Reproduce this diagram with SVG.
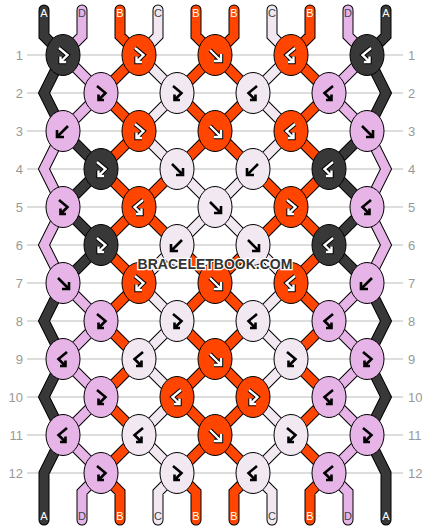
<svg xmlns="http://www.w3.org/2000/svg" width="430" height="528" viewBox="0 0 430 528">
<style>
.grid{stroke:#bbb;stroke-width:1}
.rl{font-family:"Liberation Sans",Arial,sans-serif;font-size:13px;fill:#999}
.sl{font-family:"Liberation Sans",Arial,sans-serif;font-size:11px;text-anchor:middle}
.lw{fill:#fff}.ld{fill:#444}
.ol{fill:none;stroke:#000;stroke-width:11;stroke-linejoin:miter;stroke-linecap:round}
.th{fill:none;stroke-width:9;stroke-linejoin:miter;stroke-linecap:round}
.tA{stroke:#383838}.tB{stroke:#ff4500}.tC{stroke:#f2e8f2}.tD{stroke:#e6b4e6}
ellipse{stroke:#000;stroke-width:1}
.kA{fill:#383838}.kB{fill:#ff4500}.kC{fill:#f2e8f2}.kD{fill:#e6b4e6}
.ib{fill:none;stroke:#000;stroke-width:2.6}
.io{fill:none;stroke:#000;stroke-width:4.4}
.iw{fill:none;stroke:#fff;stroke-width:2.4}
.wm{font-family:"Liberation Sans",Arial,sans-serif;font-weight:bold;font-size:14px;fill:#333;stroke:#fff;stroke-width:2.5;paint-order:stroke;text-anchor:middle}
</style>
<defs>
<path id="fb" d="M-4,-7 L4.5,0 L-2.5,7 M-2.5,1.5 V7 H3"/>
<path id="bf" d="M4,-7 L-4.5,0 L2.5,7 M2.5,1.5 V7 H-3"/>
<path id="f" d="M-5,-5 L6,6 M6,-1 V6 H-1"/>
<path id="b" d="M5,-5 L-6,6 M-6,-1 V6 H1"/>
</defs>
<g id="grid">
<line class="grid" x1="27" y1="55" x2="403" y2="55"/>
<line class="grid" x1="27" y1="93" x2="403" y2="93"/>
<line class="grid" x1="27" y1="131" x2="403" y2="131"/>
<line class="grid" x1="27" y1="169" x2="403" y2="169"/>
<line class="grid" x1="27" y1="207" x2="403" y2="207"/>
<line class="grid" x1="27" y1="245" x2="403" y2="245"/>
<line class="grid" x1="27" y1="283" x2="403" y2="283"/>
<line class="grid" x1="27" y1="321" x2="403" y2="321"/>
<line class="grid" x1="27" y1="359" x2="403" y2="359"/>
<line class="grid" x1="27" y1="397" x2="403" y2="397"/>
<line class="grid" x1="27" y1="435" x2="403" y2="435"/>
<line class="grid" x1="27" y1="473" x2="403" y2="473"/>
</g>
<g id="row-labels">
<text class="rl" x="23" y="59.5" text-anchor="end">1</text><text class="rl" x="408" y="59.5">1</text>
<text class="rl" x="23" y="97.5" text-anchor="end">2</text><text class="rl" x="408" y="97.5">2</text>
<text class="rl" x="23" y="135.5" text-anchor="end">3</text><text class="rl" x="408" y="135.5">3</text>
<text class="rl" x="23" y="173.5" text-anchor="end">4</text><text class="rl" x="408" y="173.5">4</text>
<text class="rl" x="23" y="211.5" text-anchor="end">5</text><text class="rl" x="408" y="211.5">5</text>
<text class="rl" x="23" y="249.5" text-anchor="end">6</text><text class="rl" x="408" y="249.5">6</text>
<text class="rl" x="23" y="287.5" text-anchor="end">7</text><text class="rl" x="408" y="287.5">7</text>
<text class="rl" x="23" y="325.5" text-anchor="end">8</text><text class="rl" x="408" y="325.5">8</text>
<text class="rl" x="23" y="363.5" text-anchor="end">9</text><text class="rl" x="408" y="363.5">9</text>
<text class="rl" x="23" y="401.5" text-anchor="end">10</text><text class="rl" x="408" y="401.5">10</text>
<text class="rl" x="23" y="439.5" text-anchor="end">11</text><text class="rl" x="408" y="439.5">11</text>
<text class="rl" x="23" y="477.5" text-anchor="end">12</text><text class="rl" x="408" y="477.5">12</text>
</g>
<g id="connectors">
<path class="ol" d="M44,10V36L63,55M386,10V36L367,55M63,55L44,93L63,131M367,55L386,93L367,131M63,131L101,169M367,131L329,169M101,169L63,207M329,169L367,207M63,207L101,245M367,207L329,245M101,245L63,283M329,245L367,283M63,283L44,321L63,359M367,283L386,321L367,359M63,359L44,397L63,435M367,359L386,397L367,435M63,435L44,473V520M367,435L386,473V520
M82,10V36L63,55M348,10V36L367,55M63,55L101,93M367,55L329,93M101,93L63,131M329,93L367,131M63,131L44,169L63,207M367,131L386,169L367,207M63,207L44,245L63,283M367,207L386,245L367,283M63,283L101,321M367,283L329,321M101,321L63,359M329,321L367,359M63,359L101,397M367,359L329,397M101,397L63,435M329,397L367,435M63,435L101,473M367,435L329,473M101,473L82,492V520M329,473L348,492V520
M120,10V36L139,55M196,10V36L215,55M234,10V36L215,55M310,10V36L291,55M139,55L101,93M215,55L177,93M215,55L253,93M291,55L329,93M101,93L139,131M177,93L215,131M253,93L215,131M329,93L291,131M139,131L101,169M215,131L177,169M215,131L253,169M291,131L329,169M101,169L139,207M177,169L139,207M253,169L291,207M329,169L291,207M139,207L101,245M139,207L177,245M291,207L253,245M291,207L329,245M101,245L139,283M177,245L215,283M253,245L215,283M329,245L291,283M139,283L101,321M215,283L177,321M215,283L253,321M291,283L329,321M101,321L139,359M177,321L215,359M253,321L215,359M329,321L291,359M139,359L101,397M215,359L177,397M215,359L253,397M291,359L329,397M101,397L139,435M177,397L215,435M253,397L215,435M329,397L291,435M139,435L101,473M215,435L177,473M215,435L253,473M291,435L329,473M101,473L120,492V520M177,473L196,492V520M253,473L234,492V520M329,473L310,492V520
M158,10V36L139,55M272,10V36L291,55M139,55L177,93M291,55L253,93M177,93L139,131M253,93L291,131M139,131L177,169M291,131L253,169M177,169L215,207M253,169L215,207M215,207L177,245M215,207L253,245M177,245L139,283M253,245L291,283M139,283L177,321M291,283L253,321M177,321L139,359M253,321L291,359M139,359L177,397M291,359L253,397M177,397L139,435M253,397L291,435M139,435L177,473M291,435L253,473M177,473L158,492V520M253,473L272,492V520"/>
<path class="th tA" d="M44,10V36L63,55M386,10V36L367,55M63,55L44,93L63,131M367,55L386,93L367,131M63,131L101,169M367,131L329,169M101,169L63,207M329,169L367,207M63,207L101,245M367,207L329,245M101,245L63,283M329,245L367,283M63,283L44,321L63,359M367,283L386,321L367,359M63,359L44,397L63,435M367,359L386,397L367,435M63,435L44,473V520M367,435L386,473V520"/>
<path class="th tD" d="M82,10V36L63,55M348,10V36L367,55M63,55L101,93M367,55L329,93M101,93L63,131M329,93L367,131M63,131L44,169L63,207M367,131L386,169L367,207M63,207L44,245L63,283M367,207L386,245L367,283M63,283L101,321M367,283L329,321M101,321L63,359M329,321L367,359M63,359L101,397M367,359L329,397M101,397L63,435M329,397L367,435M63,435L101,473M367,435L329,473M101,473L82,492V520M329,473L348,492V520"/>
<path class="th tB" d="M120,10V36L139,55M196,10V36L215,55M234,10V36L215,55M310,10V36L291,55M139,55L101,93M215,55L177,93M215,55L253,93M291,55L329,93M101,93L139,131M177,93L215,131M253,93L215,131M329,93L291,131M139,131L101,169M215,131L177,169M215,131L253,169M291,131L329,169M101,169L139,207M177,169L139,207M253,169L291,207M329,169L291,207M139,207L101,245M139,207L177,245M291,207L253,245M291,207L329,245M101,245L139,283M177,245L215,283M253,245L215,283M329,245L291,283M139,283L101,321M215,283L177,321M215,283L253,321M291,283L329,321M101,321L139,359M177,321L215,359M253,321L215,359M329,321L291,359M139,359L101,397M215,359L177,397M215,359L253,397M291,359L329,397M101,397L139,435M177,397L215,435M253,397L215,435M329,397L291,435M139,435L101,473M215,435L177,473M215,435L253,473M291,435L329,473M101,473L120,492V520M177,473L196,492V520M253,473L234,492V520M329,473L310,492V520"/>
<path class="th tC" d="M158,10V36L139,55M272,10V36L291,55M139,55L177,93M291,55L253,93M177,93L139,131M253,93L291,131M139,131L177,169M291,131L253,169M177,169L215,207M253,169L215,207M215,207L177,245M215,207L253,245M177,245L139,283M253,245L291,283M139,283L177,321M291,283L253,321M177,321L139,359M253,321L291,359M139,359L177,397M291,359L253,397M177,397L139,435M253,397L291,435M139,435L177,473M291,435L253,473M177,473L158,492V520M253,473L272,492V520"/>
</g>
<g id="strand-labels">
<text class="sl lw" x="44" y="17">A</text><text class="sl ld" x="82" y="17">D</text><text class="sl lw" x="120" y="17">B</text><text class="sl ld" x="158" y="17">C</text><text class="sl lw" x="196" y="17">B</text><text class="sl lw" x="234" y="17">B</text><text class="sl ld" x="272" y="17">C</text><text class="sl lw" x="310" y="17">B</text><text class="sl ld" x="348" y="17">D</text><text class="sl lw" x="386" y="17">A</text>
<text class="sl lw" x="44" y="520">A</text><text class="sl ld" x="82" y="520">D</text><text class="sl lw" x="120" y="520">B</text><text class="sl ld" x="158" y="520">C</text><text class="sl lw" x="196" y="520">B</text><text class="sl lw" x="234" y="520">B</text><text class="sl ld" x="272" y="520">C</text><text class="sl lw" x="310" y="520">B</text><text class="sl ld" x="348" y="520">D</text><text class="sl lw" x="386" y="520">A</text>
</g>
<g id="k1-1" transform="translate(63,55)"><ellipse class="kA" rx="17" ry="20.5"/><use href="#fb" class="io"/><use href="#fb" class="iw"/></g>
<g id="k1-2" transform="translate(139,55)"><ellipse class="kB" rx="17" ry="20.5"/><use href="#fb" class="io"/><use href="#fb" class="iw"/></g>
<g id="k1-3" transform="translate(215,55)"><ellipse class="kB" rx="17" ry="20.5"/><use href="#f" class="io"/><use href="#f" class="iw"/></g>
<g id="k1-4" transform="translate(291,55)"><ellipse class="kB" rx="17" ry="20.5"/><use href="#bf" class="io"/><use href="#bf" class="iw"/></g>
<g id="k1-5" transform="translate(367,55)"><ellipse class="kA" rx="17" ry="20.5"/><use href="#bf" class="io"/><use href="#bf" class="iw"/></g>
<g id="k2-1" transform="translate(101,93)"><ellipse class="kD" rx="17" ry="20.5"/><use href="#fb" class="ib"/></g>
<g id="k2-2" transform="translate(177,93)"><ellipse class="kC" rx="17" ry="20.5"/><use href="#fb" class="ib"/></g>
<g id="k2-3" transform="translate(253,93)"><ellipse class="kC" rx="17" ry="20.5"/><use href="#bf" class="ib"/></g>
<g id="k2-4" transform="translate(329,93)"><ellipse class="kD" rx="17" ry="20.5"/><use href="#bf" class="ib"/></g>
<g id="k3-1" transform="translate(63,131)"><ellipse class="kD" rx="17" ry="20.5"/><use href="#b" class="ib"/></g>
<g id="k3-2" transform="translate(139,131)"><ellipse class="kB" rx="17" ry="20.5"/><use href="#fb" class="io"/><use href="#fb" class="iw"/></g>
<g id="k3-3" transform="translate(215,131)"><ellipse class="kB" rx="17" ry="20.5"/><use href="#f" class="io"/><use href="#f" class="iw"/></g>
<g id="k3-4" transform="translate(291,131)"><ellipse class="kB" rx="17" ry="20.5"/><use href="#bf" class="io"/><use href="#bf" class="iw"/></g>
<g id="k3-5" transform="translate(367,131)"><ellipse class="kD" rx="17" ry="20.5"/><use href="#f" class="ib"/></g>
<g id="k4-1" transform="translate(101,169)"><ellipse class="kA" rx="17" ry="20.5"/><use href="#fb" class="io"/><use href="#fb" class="iw"/></g>
<g id="k4-2" transform="translate(177,169)"><ellipse class="kC" rx="17" ry="20.5"/><use href="#f" class="ib"/></g>
<g id="k4-3" transform="translate(253,169)"><ellipse class="kC" rx="17" ry="20.5"/><use href="#b" class="ib"/></g>
<g id="k4-4" transform="translate(329,169)"><ellipse class="kA" rx="17" ry="20.5"/><use href="#bf" class="io"/><use href="#bf" class="iw"/></g>
<g id="k5-1" transform="translate(63,207)"><ellipse class="kD" rx="17" ry="20.5"/><use href="#fb" class="ib"/></g>
<g id="k5-2" transform="translate(139,207)"><ellipse class="kB" rx="17" ry="20.5"/><use href="#bf" class="io"/><use href="#bf" class="iw"/></g>
<g id="k5-3" transform="translate(215,207)"><ellipse class="kC" rx="17" ry="20.5"/><use href="#f" class="ib"/></g>
<g id="k5-4" transform="translate(291,207)"><ellipse class="kB" rx="17" ry="20.5"/><use href="#fb" class="io"/><use href="#fb" class="iw"/></g>
<g id="k5-5" transform="translate(367,207)"><ellipse class="kD" rx="17" ry="20.5"/><use href="#bf" class="ib"/></g>
<g id="k6-1" transform="translate(101,245)"><ellipse class="kA" rx="17" ry="20.5"/><use href="#fb" class="io"/><use href="#fb" class="iw"/></g>
<g id="k6-2" transform="translate(177,245)"><ellipse class="kC" rx="17" ry="20.5"/><use href="#b" class="ib"/></g>
<g id="k6-3" transform="translate(253,245)"><ellipse class="kC" rx="17" ry="20.5"/><use href="#f" class="ib"/></g>
<g id="k6-4" transform="translate(329,245)"><ellipse class="kA" rx="17" ry="20.5"/><use href="#bf" class="io"/><use href="#bf" class="iw"/></g>
<g id="k7-1" transform="translate(63,283)"><ellipse class="kD" rx="17" ry="20.5"/><use href="#f" class="ib"/></g>
<g id="k7-2" transform="translate(139,283)"><ellipse class="kB" rx="17" ry="20.5"/><use href="#fb" class="io"/><use href="#fb" class="iw"/></g>
<g id="k7-3" transform="translate(215,283)"><ellipse class="kB" rx="17" ry="20.5"/><use href="#f" class="io"/><use href="#f" class="iw"/></g>
<g id="k7-4" transform="translate(291,283)"><ellipse class="kB" rx="17" ry="20.5"/><use href="#bf" class="io"/><use href="#bf" class="iw"/></g>
<g id="k7-5" transform="translate(367,283)"><ellipse class="kD" rx="17" ry="20.5"/><use href="#b" class="ib"/></g>
<g id="k8-1" transform="translate(101,321)"><ellipse class="kD" rx="17" ry="20.5"/><use href="#fb" class="ib"/></g>
<g id="k8-2" transform="translate(177,321)"><ellipse class="kC" rx="17" ry="20.5"/><use href="#fb" class="ib"/></g>
<g id="k8-3" transform="translate(253,321)"><ellipse class="kC" rx="17" ry="20.5"/><use href="#bf" class="ib"/></g>
<g id="k8-4" transform="translate(329,321)"><ellipse class="kD" rx="17" ry="20.5"/><use href="#bf" class="ib"/></g>
<g id="k9-1" transform="translate(63,359)"><ellipse class="kD" rx="17" ry="20.5"/><use href="#bf" class="ib"/></g>
<g id="k9-2" transform="translate(139,359)"><ellipse class="kC" rx="17" ry="20.5"/><use href="#bf" class="ib"/></g>
<g id="k9-3" transform="translate(215,359)"><ellipse class="kB" rx="17" ry="20.5"/><use href="#f" class="io"/><use href="#f" class="iw"/></g>
<g id="k9-4" transform="translate(291,359)"><ellipse class="kC" rx="17" ry="20.5"/><use href="#fb" class="ib"/></g>
<g id="k9-5" transform="translate(367,359)"><ellipse class="kD" rx="17" ry="20.5"/><use href="#fb" class="ib"/></g>
<g id="k10-1" transform="translate(101,397)"><ellipse class="kD" rx="17" ry="20.5"/><use href="#fb" class="ib"/></g>
<g id="k10-2" transform="translate(177,397)"><ellipse class="kB" rx="17" ry="20.5"/><use href="#bf" class="io"/><use href="#bf" class="iw"/></g>
<g id="k10-3" transform="translate(253,397)"><ellipse class="kB" rx="17" ry="20.5"/><use href="#fb" class="io"/><use href="#fb" class="iw"/></g>
<g id="k10-4" transform="translate(329,397)"><ellipse class="kD" rx="17" ry="20.5"/><use href="#bf" class="ib"/></g>
<g id="k11-1" transform="translate(63,435)"><ellipse class="kD" rx="17" ry="20.5"/><use href="#bf" class="ib"/></g>
<g id="k11-2" transform="translate(139,435)"><ellipse class="kC" rx="17" ry="20.5"/><use href="#bf" class="ib"/></g>
<g id="k11-3" transform="translate(215,435)"><ellipse class="kB" rx="17" ry="20.5"/><use href="#f" class="io"/><use href="#f" class="iw"/></g>
<g id="k11-4" transform="translate(291,435)"><ellipse class="kC" rx="17" ry="20.5"/><use href="#fb" class="ib"/></g>
<g id="k11-5" transform="translate(367,435)"><ellipse class="kD" rx="17" ry="20.5"/><use href="#fb" class="ib"/></g>
<g id="k12-1" transform="translate(101,473)"><ellipse class="kD" rx="17" ry="20.5"/><use href="#fb" class="ib"/></g>
<g id="k12-2" transform="translate(177,473)"><ellipse class="kC" rx="17" ry="20.5"/><use href="#fb" class="ib"/></g>
<g id="k12-3" transform="translate(253,473)"><ellipse class="kC" rx="17" ry="20.5"/><use href="#bf" class="ib"/></g>
<g id="k12-4" transform="translate(329,473)"><ellipse class="kD" rx="17" ry="20.5"/><use href="#bf" class="ib"/></g>
<text class="wm" x="215" y="269">BRACELETBOOK.COM</text>
</svg>
